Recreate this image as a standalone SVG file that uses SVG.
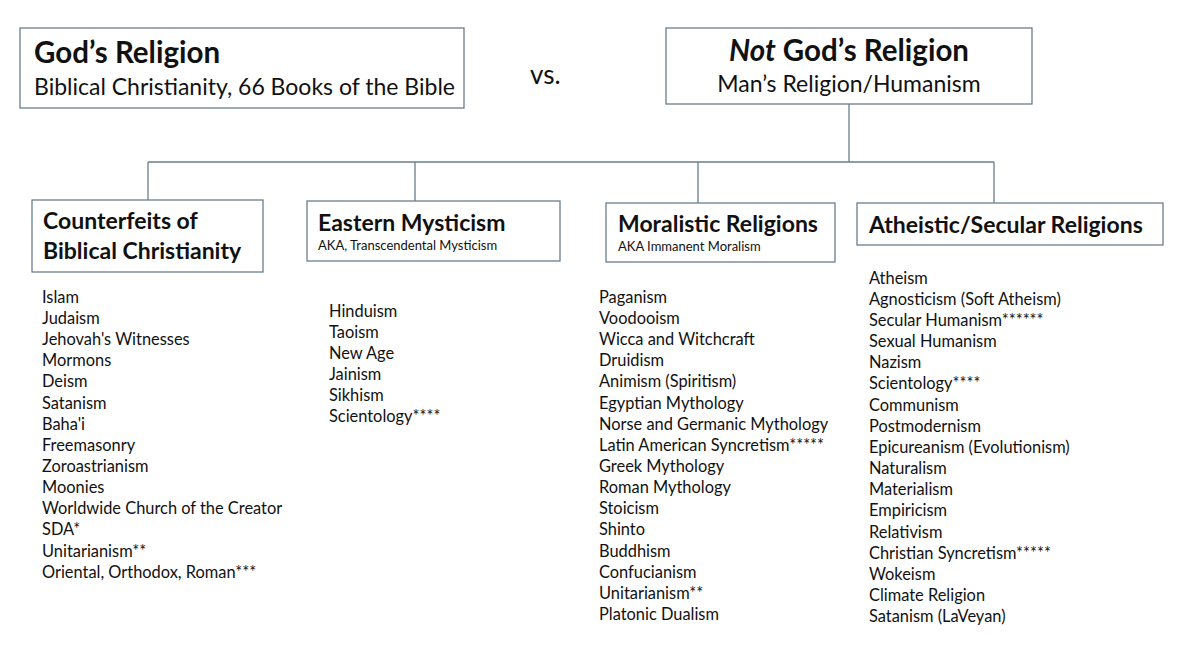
<svg xmlns="http://www.w3.org/2000/svg" width="1192" height="645" viewBox="0 0 1192 645">
  <style>
    .box { fill: #ffffff; stroke: #6b7f8e; stroke-width: 1.3; }
    .wire { fill: none; stroke: #6b7f8e; stroke-width: 1.3; }
    text { font-family: Lato, "Liberation Sans", sans-serif; fill: #111111; }
    .big { font-size: 29.5px; font-weight: bold; }
    .sub { font-size: 23px; }
    .head { font-size: 23px; font-weight: bold; }
    .aka { font-size: 13px; }
    .item { font-size: 16.4px; }
  </style>
  <rect width="1192" height="645" fill="#ffffff"/>

  <!-- tree connectors -->
  <g id="connectors">
    <path class="wire" d="M849,104 V162 M148,162 H994 M148,162 V200 M415,162 V201 M698,162 V203 M994,162 V203"/>
  </g>

  <g id="gods-religion">
    <rect class="box" x="20" y="28" width="444" height="80"/>
    <text class="big" x="34" y="63">God’s Religion</text>
    <text class="sub" x="34" y="95">Biblical Christianity, 66 Books of the Bible</text>
  </g>

  <g id="versus">
    <text x="530" y="84" style="font-size:26px">vs.</text>
  </g>

  <g id="not-gods-religion">
    <rect class="box" x="666" y="28" width="366" height="76"/>
    <text class="big" x="849" y="61" text-anchor="middle"><tspan font-style="italic">Not</tspan> God’s Religion</text>
    <text class="sub" x="849" y="92" text-anchor="middle">Man’s Religion/Humanism</text>
  </g>

  <g id="counterfeits">
    <rect class="box" x="32" y="200" width="231" height="72"/>
    <text class="head" x="43" y="229">Counterfeits of</text>
    <text class="head" x="43" y="259">Biblical Christianity</text>
    <g class="item">
      <text x="42" y="303">Islam</text>
      <text x="42" y="324">Judaism</text>
      <text x="42" y="345">Jehovah's Witnesses</text>
      <text x="42" y="366">Mormons</text>
      <text x="42" y="387">Deism</text>
      <text x="42" y="409">Satanism</text>
      <text x="42" y="430">Baha'i</text>
      <text x="42" y="451">Freemasonry</text>
      <text x="42" y="472">Zoroastrianism</text>
      <text x="42" y="493">Moonies</text>
      <text x="42" y="514">Worldwide Church of the Creator</text>
      <text x="42" y="535">SDA*</text>
      <text x="42" y="557">Unitarianism**</text>
      <text x="42" y="578">Oriental, Orthodox, Roman***</text>
    </g>
  </g>

  <g id="eastern-mysticism">
    <rect class="box" x="307" y="201" width="253" height="60"/>
    <text class="head" x="318" y="231">Eastern Mysticism</text>
    <text class="aka" x="318" y="250">AKA, Transcendental Mysticism</text>
    <g class="item">
      <text x="329" y="317">Hinduism</text>
      <text x="329" y="338">Taoism</text>
      <text x="329" y="359">New Age</text>
      <text x="329" y="380">Jainism</text>
      <text x="329" y="401">Sikhism</text>
      <text x="329" y="422">Scientology****</text>
    </g>
  </g>

  <g id="moralistic-religions">
    <rect class="box" x="606" y="203" width="229" height="59"/>
    <text class="head" x="618" y="232">Moralistic Religions</text>
    <text class="aka" x="618" y="251">AKA Immanent Moralism</text>
    <g class="item">
      <text x="599" y="303">Paganism</text>
      <text x="599" y="324">Voodooism</text>
      <text x="599" y="345">Wicca and Witchcraft</text>
      <text x="599" y="366">Druidism</text>
      <text x="599" y="387">Animism (Spiritism)</text>
      <text x="599" y="409">Egyptian Mythology</text>
      <text x="599" y="430">Norse and Germanic Mythology</text>
      <text x="599" y="451">Latin American Syncretism*****</text>
      <text x="599" y="472">Greek Mythology</text>
      <text x="599" y="493">Roman Mythology</text>
      <text x="599" y="514">Stoicism</text>
      <text x="599" y="535">Shinto</text>
      <text x="599" y="557">Buddhism</text>
      <text x="599" y="578">Confucianism</text>
      <text x="599" y="599">Unitarianism**</text>
      <text x="599" y="620">Platonic Dualism</text>
    </g>
  </g>

  <g id="atheistic-secular-religions">
    <rect class="box" x="857" y="203" width="306" height="42"/>
    <text class="head" x="869" y="233">Atheistic/Secular Religions</text>
    <g class="item">
      <text x="869" y="284">Atheism</text>
      <text x="869" y="305">Agnosticism (Soft Atheism)</text>
      <text x="869" y="326">Secular Humanism******</text>
      <text x="869" y="347">Sexual Humanism</text>
      <text x="869" y="368">Nazism</text>
      <text x="869" y="389">Scientology****</text>
      <text x="869" y="411">Communism</text>
      <text x="869" y="432">Postmodernism</text>
      <text x="869" y="453">Epicureanism (Evolutionism)</text>
      <text x="869" y="474">Naturalism</text>
      <text x="869" y="495">Materialism</text>
      <text x="869" y="516">Empiricism</text>
      <text x="869" y="538">Relativism</text>
      <text x="869" y="559">Christian Syncretism*****</text>
      <text x="869" y="580">Wokeism</text>
      <text x="869" y="601">Climate Religion</text>
      <text x="869" y="622">Satanism (LaVeyan)</text>
    </g>
  </g>
</svg>
